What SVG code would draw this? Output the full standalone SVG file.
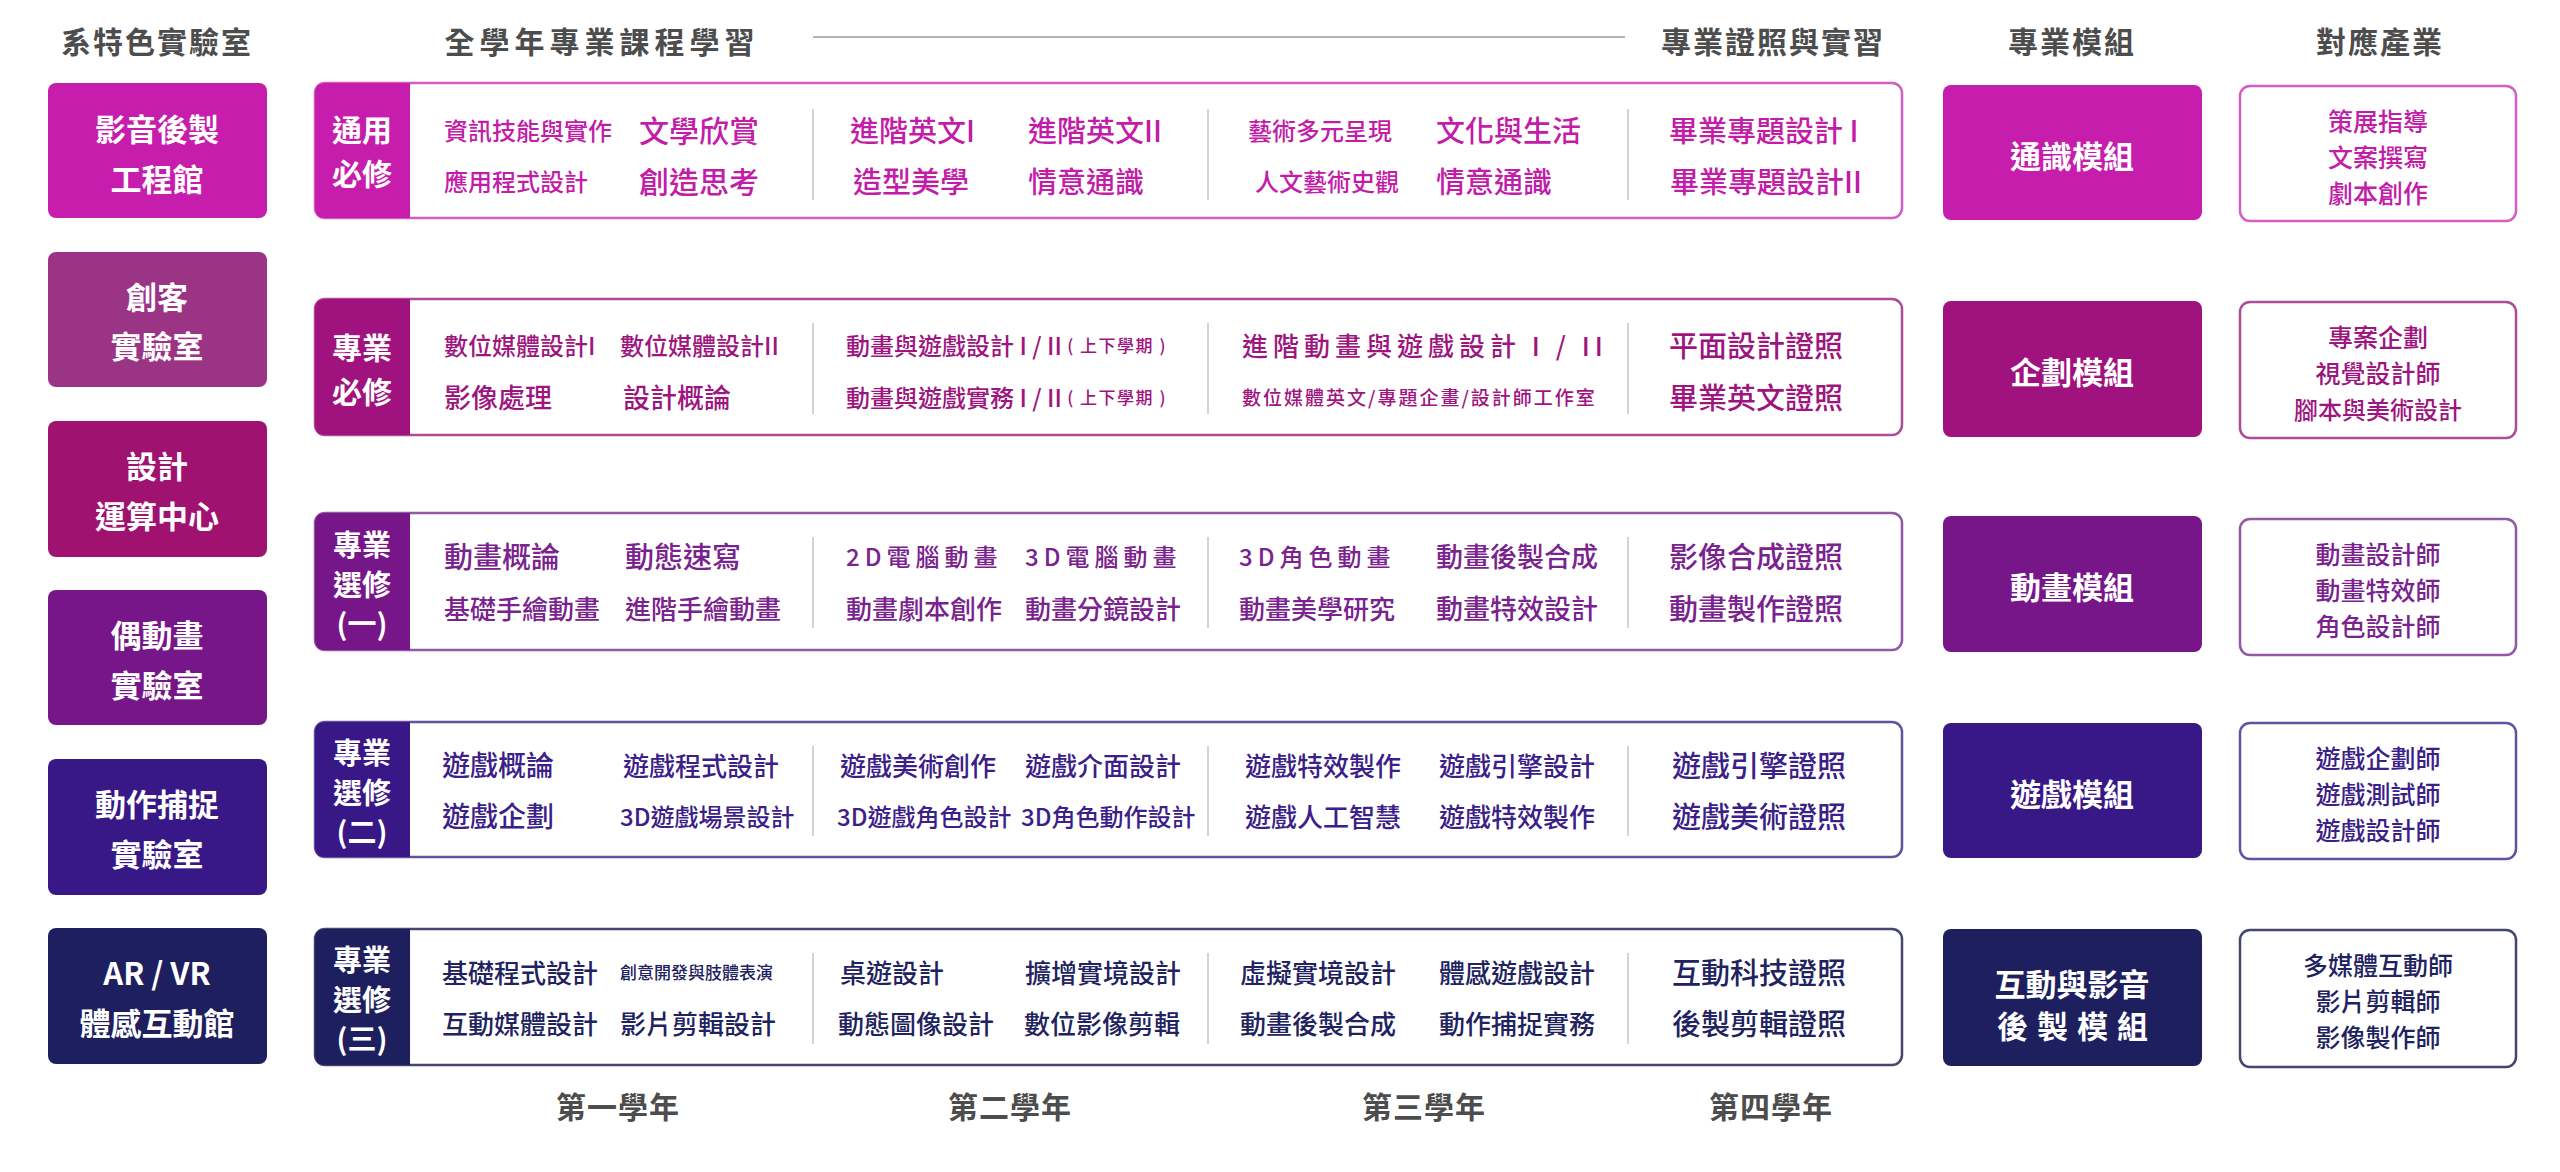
<svg xmlns="http://www.w3.org/2000/svg" width="2560" height="1172" viewBox="0 0 2560 1172">
<defs>
<style>
text{font-family:"Noto Sans CJK TC","Noto Sans CJK SC",sans-serif;dominant-baseline:central}
.h{font-size:30px;font-weight:700;fill:#4d4d4d;text-anchor:middle;letter-spacing:2px}
.w{fill:#ffffff;font-weight:700;text-anchor:middle}
.t{font-weight:500}
.ind{font-size:25px;font-weight:500;text-anchor:middle}
.sep{stroke:#c4c4c4;stroke-width:1.5}
.f1{fill:#C61DAD}.f2{fill:#A0137F}.f3{fill:#761689}.f4{fill:#381786}.f5{fill:#1E1F5E}
.k1{fill:#C21CA8}.k2{fill:#9E1580}.k3{fill:#7A228E}.k4{fill:#3A2088}.k5{fill:#212260}
.b1{stroke:#D45CC2}.b2{stroke:#AE4C98}.b3{stroke:#9258A6}.b4{stroke:#6452A0}.b5{stroke:#45466F}
.box{fill:#ffffff;stroke-width:2.5}
</style>
</defs>
<rect x="0" y="0" width="2560" height="1172" fill="#ffffff"/>

<g id="headers">
<text class="h" x="157" y="40">系特色實驗室</text>
<text class="h" x="602" y="40" style="letter-spacing:5px">全學年專業課程學習</text>
<line x1="813" y1="37" x2="1625" y2="37" stroke="#b5b5b5" stroke-width="2"/>
<text class="h" x="1773" y="40">專業證照與實習</text>
<text class="h" x="2072" y="40">專業模組</text>
<text class="h" x="2380" y="40">對應產業</text>
</g>

<g id="labs">
<g id="lab1"><rect x="48" y="83" width="219" height="135" rx="8" class="f1"/><text class="w" x="157" y="127" font-size="31">影音後製</text><text class="w" x="157" y="177" font-size="31">工程館</text></g>
<g id="lab2"><rect x="48" y="252" width="219" height="135" rx="8" fill="#9C3486"/><text class="w" x="157" y="295" font-size="31">創客</text><text class="w" x="157" y="344" font-size="31">實驗室</text></g>
<g id="lab3"><rect x="48" y="421" width="219" height="136" rx="8" fill="#A01270"/><text class="w" x="157" y="464" font-size="31">設計</text><text class="w" x="157" y="514" font-size="31">運算中心</text></g>
<g id="lab4"><rect x="48" y="590" width="219" height="135" rx="8" class="f3"/><text class="w" x="157" y="633" font-size="31">偶動畫</text><text class="w" x="157" y="683" font-size="31">實驗室</text></g>
<g id="lab5"><rect x="48" y="759" width="219" height="136" rx="8" class="f4"/><text class="w" x="157" y="802" font-size="31">動作捕捉</text><text class="w" x="157" y="852" font-size="31">實驗室</text></g>
<g id="lab6"><rect x="48" y="928" width="219" height="136" rx="8" class="f5"/><text class="w" x="157" y="971" font-size="31">AR / VR</text><text class="w" x="157" y="1021" font-size="31">體感互動館</text></g>
</g>

<g id="row1">
<rect x="315" y="83" width="1587" height="135" rx="10" class="box b1"/>
<path d="M325,83 H410 V218 H325 Q315,218 315,208 V93 Q315,83 325,83 Z" class="f1"/>
<text class="w" x="362" y="128" font-size="30">通用</text><text class="w" x="362" y="172" font-size="30">必修</text>
<line class="sep" x1="813" y1="109" x2="813" y2="200"/><line class="sep" x1="1208" y1="109" x2="1208" y2="200"/><line class="sep" x1="1628" y1="109" x2="1628" y2="200"/>
<g class="t k1">
<text x="444" y="129" font-size="24">資訊技能與實作</text>
<text x="639" y="129" font-size="30">文學欣賞</text>
<text x="444" y="180" font-size="24">應用程式設計</text>
<text x="639" y="180" font-size="30">創造思考</text>
<text x="850" y="129" font-size="29">進階英文I</text>
<text x="1028" y="129" font-size="29">進階英文II</text>
<text x="853" y="180" font-size="29">造型美學</text>
<text x="1028" y="180" font-size="29">情意通識</text>
<text x="1248" y="129" font-size="24">藝術多元呈現</text>
<text x="1436" y="129" font-size="29">文化與生活</text>
<text x="1255" y="180" font-size="24">人文藝術史觀</text>
<text x="1436" y="180" font-size="29">情意通識</text>
<text x="1669" y="129" font-size="29">畢業專題設計 I</text>
<text x="1670" y="180" font-size="29">畢業專題設計II</text>
</g>
</g>

<g id="row2">
<rect x="315" y="299" width="1587" height="136" rx="10" class="box b2"/>
<path d="M325,299 H410 V435 H325 Q315,435 315,425 V309 Q315,299 325,299 Z" class="f2"/>
<text class="w" x="362" y="346" font-size="30">專業</text><text class="w" x="362" y="390" font-size="30">必修</text>
<line class="sep" x1="813" y1="323" x2="813" y2="414"/><line class="sep" x1="1208" y1="323" x2="1208" y2="414"/><line class="sep" x1="1628" y1="323" x2="1628" y2="414"/>
<g class="t k2">
<text x="444" y="344" font-size="24">數位媒體設計I</text>
<text x="620" y="344" font-size="24">數位媒體設計II</text>
<text x="444" y="396" font-size="27">影像處理</text>
<text x="623" y="396" font-size="27">設計概論</text>
<text x="846" y="344" font-size="24">動畫與遊戲設計 I / II <tspan font-size="17" letter-spacing="1.5">( 上下學期 )</tspan></text>
<text x="846" y="396" font-size="24">動畫與遊戲實務 I / II <tspan font-size="17" letter-spacing="1.5">( 上下學期 )</tspan></text>
<text x="1242" y="344" font-size="26" letter-spacing="5">進階動畫與遊戲設計 I / II</text>
<text x="1242" y="396" font-size="19" letter-spacing="2">數位媒體英文/專題企畫/設計師工作室</text>
<text x="1669" y="344" font-size="29">平面設計證照</text>
<text x="1669" y="396" font-size="29">畢業英文證照</text>
</g>
</g>

<g id="row3">
<rect x="315" y="513" width="1587" height="137" rx="10" class="box b3"/>
<path d="M325,513 H410 V650 H325 Q315,650 315,640 V523 Q315,513 325,513 Z" class="f3"/>
<text class="w" x="362" y="543" font-size="29">專業</text><text class="w" x="362" y="583" font-size="29">選修</text><text class="w" x="362" y="622" font-size="29">(一)</text>
<line class="sep" x1="813" y1="537" x2="813" y2="628"/><line class="sep" x1="1208" y1="537" x2="1208" y2="628"/><line class="sep" x1="1628" y1="537" x2="1628" y2="628"/>
<g class="t k3">
<text x="444" y="555" font-size="29">動畫概論</text>
<text x="625" y="555" font-size="29">動態速寫</text>
<text x="444" y="607" font-size="26">基礎手繪動畫</text>
<text x="625" y="607" font-size="26">進階手繪動畫</text>
<text x="846" y="555" font-size="24" letter-spacing="5">2D電腦動畫</text>
<text x="1025" y="555" font-size="24" letter-spacing="5">3D電腦動畫</text>
<text x="846" y="607" font-size="26">動畫劇本創作</text>
<text x="1025" y="607" font-size="26">動畫分鏡設計</text>
<text x="1239" y="555" font-size="24" letter-spacing="5">3D角色動畫</text>
<text x="1436" y="555" font-size="27">動畫後製合成</text>
<text x="1239" y="607" font-size="26">動畫美學研究</text>
<text x="1436" y="607" font-size="27">動畫特效設計</text>
<text x="1669" y="555" font-size="29">影像合成證照</text>
<text x="1669" y="607" font-size="29">動畫製作證照</text>
</g>
</g>

<g id="row4">
<rect x="315" y="722" width="1587" height="135" rx="10" class="box b4"/>
<path d="M325,722 H410 V857 H325 Q315,857 315,847 V732 Q315,722 325,722 Z" class="f4"/>
<text class="w" x="362" y="751" font-size="29">專業</text><text class="w" x="362" y="791" font-size="29">選修</text><text class="w" x="362" y="830" font-size="29">(二)</text>
<line class="sep" x1="813" y1="746" x2="813" y2="836"/><line class="sep" x1="1208" y1="746" x2="1208" y2="836"/><line class="sep" x1="1628" y1="746" x2="1628" y2="836"/>
<g class="t k4">
<text x="442" y="764" font-size="28">遊戲概論</text>
<text x="623" y="764" font-size="26">遊戲程式設計</text>
<text x="442" y="815" font-size="28">遊戲企劃</text>
<text x="620" y="815" font-size="24">3D遊戲場景設計</text>
<text x="840" y="764" font-size="26">遊戲美術創作</text>
<text x="1025" y="764" font-size="26">遊戲介面設計</text>
<text x="837" y="815" font-size="24">3D遊戲角色設計</text>
<text x="1021" y="815" font-size="24">3D角色動作設計</text>
<text x="1245" y="764" font-size="26">遊戲特效製作</text>
<text x="1439" y="764" font-size="26">遊戲引擎設計</text>
<text x="1245" y="815" font-size="26">遊戲人工智慧</text>
<text x="1439" y="815" font-size="26">遊戲特效製作</text>
<text x="1672" y="764" font-size="29">遊戲引擎證照</text>
<text x="1672" y="815" font-size="29">遊戲美術證照</text>
</g>
</g>

<g id="row5">
<rect x="315" y="929" width="1587" height="136" rx="10" class="box b5"/>
<path d="M325,929 H410 V1065 H325 Q315,1065 315,1055 V939 Q315,929 325,929 Z" class="f5"/>
<text class="w" x="362" y="958" font-size="29">專業</text><text class="w" x="362" y="998" font-size="29">選修</text><text class="w" x="362" y="1037" font-size="29">(三)</text>
<line class="sep" x1="813" y1="953" x2="813" y2="1044"/><line class="sep" x1="1208" y1="953" x2="1208" y2="1044"/><line class="sep" x1="1628" y1="953" x2="1628" y2="1044"/>
<g class="t k5">
<text x="442" y="971" font-size="26">基礎程式設計</text>
<text x="620" y="971" font-size="17">創意開發與肢體表演</text>
<text x="442" y="1022" font-size="26">互動媒體設計</text>
<text x="620" y="1022" font-size="26">影片剪輯設計</text>
<text x="840" y="971" font-size="26">桌遊設計</text>
<text x="1025" y="971" font-size="26">擴增實境設計</text>
<text x="838" y="1022" font-size="26">動態圖像設計</text>
<text x="1024" y="1022" font-size="26">數位影像剪輯</text>
<text x="1240" y="971" font-size="26">虛擬實境設計</text>
<text x="1439" y="971" font-size="26">體感遊戲設計</text>
<text x="1240" y="1022" font-size="26">動畫後製合成</text>
<text x="1439" y="1022" font-size="26">動作捕捉實務</text>
<text x="1672" y="971" font-size="29">互動科技證照</text>
<text x="1672" y="1022" font-size="29">後製剪輯證照</text>
</g>
</g>

<g id="modules">
<g id="mod1"><rect x="1943" y="85" width="259" height="135" rx="8" class="f1"/><text class="w" x="2072" y="154" font-size="31">通識模組</text></g>
<g id="mod2"><rect x="1943" y="301" width="259" height="136" rx="8" class="f2"/><text class="w" x="2072" y="370" font-size="31">企劃模組</text></g>
<g id="mod3"><rect x="1943" y="516" width="259" height="136" rx="8" class="f3"/><text class="w" x="2072" y="585" font-size="31">動畫模組</text></g>
<g id="mod4"><rect x="1943" y="723" width="259" height="135" rx="8" class="f4"/><text class="w" x="2072" y="792" font-size="31">遊戲模組</text></g>
<g id="mod5"><rect x="1943" y="929" width="259" height="137" rx="8" class="f5"/><text class="w" x="2072" y="982" font-size="31">互動與影音</text><text class="w" x="2077" y="1024" font-size="31" letter-spacing="9">後製模組</text></g>
</g>

<g id="industries">
<g id="ind1"><rect x="2240" y="86" width="276" height="135" rx="10" class="box b1"/>
<g class="ind k1"><text x="2378" y="120">策展指導</text><text x="2378" y="156">文案撰寫</text><text x="2378" y="192">劇本創作</text></g></g>
<g id="ind2"><rect x="2240" y="302" width="276" height="136" rx="10" class="box b2"/>
<g class="ind k2"><text x="2378" y="336">專案企劃</text><text x="2378" y="372">視覺設計師</text><text x="2378" y="408" font-size="24">腳本與美術設計</text></g></g>
<g id="ind3"><rect x="2240" y="519" width="276" height="136" rx="10" class="box b3"/>
<g class="ind k3"><text x="2378" y="553">動畫設計師</text><text x="2378" y="589">動畫特效師</text><text x="2378" y="625">角色設計師</text></g></g>
<g id="ind4"><rect x="2240" y="723" width="276" height="136" rx="10" class="box b4"/>
<g class="ind k4"><text x="2378" y="757">遊戲企劃師</text><text x="2378" y="793">遊戲測試師</text><text x="2378" y="829">遊戲設計師</text></g></g>
<g id="ind5"><rect x="2240" y="930" width="276" height="137" rx="10" class="box b5"/>
<g class="ind k5"><text x="2378" y="964">多媒體互動師</text><text x="2378" y="1000">影片剪輯師</text><text x="2378" y="1036">影像製作師</text></g></g>
</g>

<g id="connectors"></g>

<g id="years">
<text class="h" x="618" y="1105" style="letter-spacing:1px">第一學年</text>
<text class="h" x="1010" y="1105" style="letter-spacing:1px">第二學年</text>
<text class="h" x="1424" y="1105" style="letter-spacing:1px">第三學年</text>
<text class="h" x="1771" y="1105" style="letter-spacing:1px">第四學年</text>
</g>
</svg>
